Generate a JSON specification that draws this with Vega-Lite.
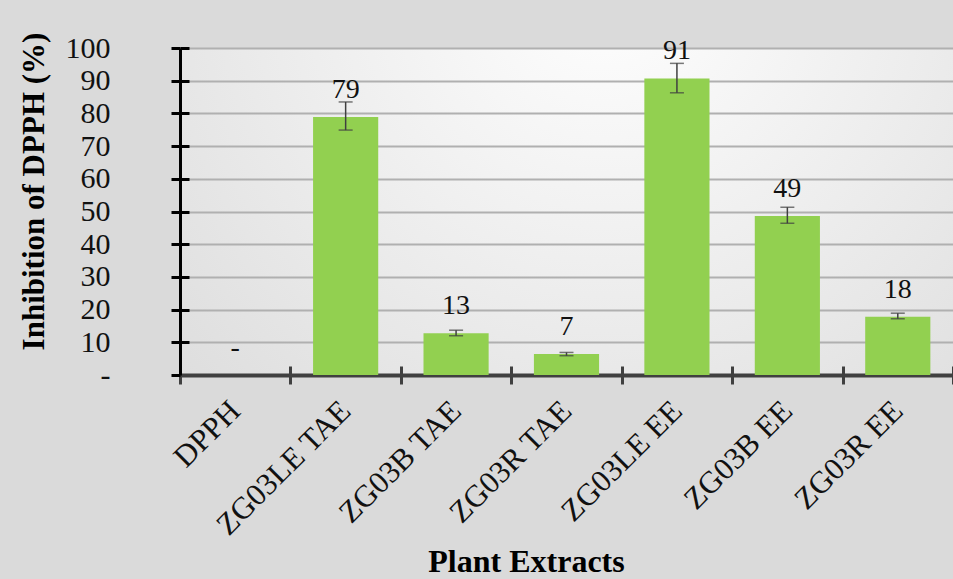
{
  "$schema": "https://vega.github.io/schema/vega-lite/v6.json",
  "width": 773,
  "height": 327,
  "autosize": {"type": "none"},
  "padding": {"left": 180, "top": 48, "right": 0, "bottom": 204},
  "background": "#dadada",
  "config": {
    "font": "Liberation Serif",
    "view": {
      "stroke": null,
      "fill": {
        "gradient": "radial",
        "x1": 0.55, "y1": 0.2, "r1": 0,
        "x2": 0.55, "y2": 0.2, "r2": 0.75,
        "stops": [
          {"offset": 0, "color": "#ffffff"},
          {"offset": 1, "color": "#dedede"}
        ]
      }
    },
    "axisY": {
      "titleFont": "Liberation Serif",
      "titleFontSize": 31,
      "titleFontWeight": "bold",
      "titleColor": "#000000",
      "titleX": -137,
      "titleY": 143,
      "titleAlign": "center",
      "titleBaseline": "alphabetic",
      "titleAngle": -90,
      "labelOverlap": false,
      "labelFont": "Liberation Serif",
      "labelFontSize": 30,
      "labelColor": "#111111",
      "labelPadding": 61,
      "tickSize": 9,
      "tickWidth": 3,
      "tickColor": "#000000",
      "domainColor": "#000000",
      "domainWidth": 3,
      "gridColor": "#b0b0b0",
      "gridWidth": 2
    }
  },
  "resolve": {"axis": {"x": "independent", "y": "independent"}},
  "data": {
    "values": [
      {"extract": "DPPH", "value": 0, "lo": null, "hi": null, "label": "-"},
      {"extract": "ZG03LE TAE", "value": 78.9, "lo": 74.9, "hi": 83.5, "label": "79"},
      {"extract": "ZG03B TAE", "value": 12.8, "lo": 12.0, "hi": 13.7, "label": "13"},
      {"extract": "ZG03R TAE", "value": 6.4, "lo": 5.9, "hi": 6.9, "label": "7"},
      {"extract": "ZG03LE EE", "value": 90.7, "lo": 86.3, "hi": 95.3, "label": "91"},
      {"extract": "ZG03B EE", "value": 48.6, "lo": 46.4, "hi": 51.3, "label": "49"},
      {"extract": "ZG03R EE", "value": 17.8, "lo": 17.2, "hi": 18.9, "label": "18"}
    ]
  },
  "encoding": {
    "x": {
      "field": "extract",
      "type": "nominal",
      "sort": null,
      "scale": {"paddingInner": 0, "paddingOuter": 0},
      "axis": null
    }
  },
  "layer": [
    {
      "mark": {"type": "bar", "color": "#92d050", "width": {"band": 0.59}},
      "encoding": {
        "x": {
          "field": "extract",
          "type": "nominal",
          "sort": null,
          "scale": {"paddingInner": 0, "paddingOuter": 0},
          "axis": {
            "orient": "bottom",
            "title": "Plant Extracts",
            "titleFont": "Liberation Serif",
            "titleFontSize": 32,
            "titleFontWeight": "bold",
            "titleColor": "#000000",
            "titleX": 346,
            "titleY": 196,
            "titleAlign": "center",
            "titleBaseline": "alphabetic",
            "labelAngle": -45,
            "labelFont": "Liberation Serif",
            "labelFontSize": 31,
            "labelColor": "#111111",
            "labelPadding": 22,
            "labelBaseline": "middle",
            "labelAlign": "right",
            "tickBand": "extent",
            "tickSize": 9,
            "tickWidth": 3,
            "tickColor": "#404040",
            "domainColor": "#404040",
            "domainWidth": 4,
            "grid": false
          }
        },
        "y": {
          "field": "value",
          "type": "quantitative",
          "scale": {"domain": [0, 100], "nice": false},
          "axis": {"orient": "left", "title": "Inhibition of DPPH (%)", "values": [0, 10, 20, 30, 40, 50, 60, 70, 80, 90, 100], "labelExpr": "datum.value == 0 ? '-' : datum.label"}
        }
      }
    },
    {
      "transform": [{"filter": "datum.hi != null"}],
      "mark": {"type": "rule", "color": "#404040", "strokeWidth": 1.5},
      "encoding": {
        "x": {
          "field": "extract",
          "type": "nominal",
          "sort": null,
          "scale": {"paddingInner": 0, "paddingOuter": 0},
          "axis": {
            "orient": "bottom",
            "title": null,
            "labels": false,
            "domain": false,
            "grid": false,
            "tickBand": "extent",
            "tickSize": -9,
            "tickWidth": 3,
            "tickColor": "#404040"
          }
        },
        "y": {
          "field": "lo",
          "type": "quantitative",
          "axis": {"orient": "left", "title": null, "labels": false, "domain": false, "grid": false, "tickSize": -9, "values": [10, 20, 30, 40, 50, 60, 70, 80, 90, 100]}
        },
        "y2": {"field": "hi"}
      }
    },
    {
      "transform": [{"filter": "datum.hi != null"}],
      "mark": {"type": "tick", "color": "#404040", "size": 14, "thickness": 1.5},
      "encoding": {
        "y": {"field": "lo", "type": "quantitative", "axis": null}
      }
    },
    {
      "transform": [{"filter": "datum.hi != null"}],
      "mark": {"type": "tick", "color": "#404040", "size": 14, "thickness": 1.5},
      "encoding": {
        "y": {"field": "hi", "type": "quantitative", "axis": null}
      }
    },
    {
      "mark": {"type": "text", "fontSize": 28, "color": "#111111", "dy": -19, "baseline": "alphabetic"},
      "encoding": {
        "y": {"field": "value", "type": "quantitative", "axis": null},
        "text": {"field": "label"}
      }
    }
  ]
}
